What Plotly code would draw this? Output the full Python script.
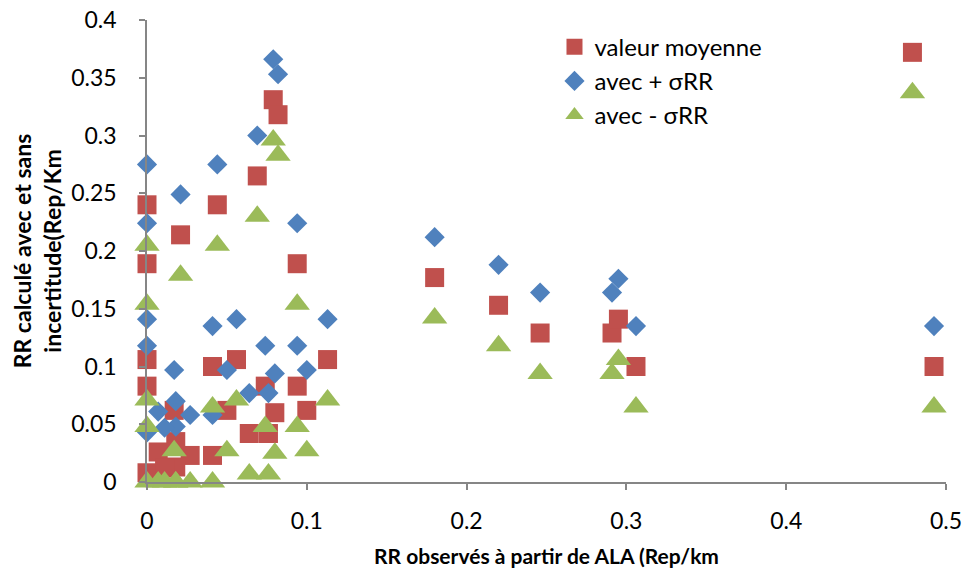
import plotly.graph_objects as go

# Observed RR from ALA (Rep/km)
rr_observe = [
    0.000, 0.044, 0.021, 0.000, 0.094, 0.069, 0.079, 0.082,
    0.000, 0.041, 0.056, 0.113, 0.000, 0.074, 0.094,
    0.017, 0.050, 0.080, 0.100, 0.064, 0.076,
    0.000, 0.007, 0.018, 0.027, 0.018, 0.011, 0.041,
    0.180, 0.220, 0.246, 0.291, 0.295, 0.306, 0.479, 0.4925,
]

# Computed RR, mean value
valeur_moyenne = [
    0.240, 0.240, 0.214, 0.189, 0.189, 0.265, 0.331, 0.318,
    0.106, 0.100, 0.106, 0.106, 0.083, 0.083, 0.083,
    0.062, 0.062, 0.060, 0.062, 0.042, 0.042,
    0.008, 0.026, 0.035, 0.023, 0.013, 0.012, 0.023,
    0.177, 0.153, 0.129, 0.129, 0.141, 0.100, 0.372, 0.100,
]

# Computed RR with + sigma
avec_plus = [
    0.275, 0.275, 0.249, 0.224, 0.224, 0.300, 0.366, 0.353,
    0.141, 0.135, 0.141, 0.141, 0.118, 0.118, 0.118,
    0.097, 0.097, 0.094, 0.097, 0.077, 0.077,
    0.043, 0.061, 0.070, 0.058, 0.048, 0.047, 0.058,
    0.212, 0.188, 0.164, 0.164, 0.176, 0.135, None, 0.135,
]

# Computed RR with - sigma
avec_moins = [
    0.205, 0.205, 0.179, 0.154, 0.154, 0.230, 0.296, 0.283,
    0.071, 0.065, 0.071, 0.071, 0.048, 0.048, 0.048,
    0.027, 0.027, 0.025, 0.027, 0.007, 0.007,
    0.000, 0.000, 0.000, 0.000, 0.000, 0.000, 0.000,
    0.142, 0.118, 0.094, 0.094, 0.106, 0.065, 0.337, 0.065,
]

x_ticks = [0, 0.1, 0.2, 0.3, 0.4, 0.5]
x_tick_text = ["0", "0.1", "0.2", "0.3", "0.4", "0.5"]
y_ticks = [0, 0.05, 0.1, 0.15, 0.2, 0.25, 0.3, 0.35, 0.4]
y_tick_text = ["0", "0.05", "0.1", "0.15", "0.2", "0.25", "0.3", "0.35", "0.4"]

RED = "#C0504D"
BLUE = "#4F81BD"
GREEN = "#9BBB59"
AXIS = "#868686"
FONT = "Lato"

fig = go.Figure()
fig.add_trace(go.Scatter(
    x=rr_observe, y=valeur_moyenne, mode="markers", name="valeur moyenne",
    marker=dict(symbol="square", size=19, color=RED),
    cliponaxis=False,
))
fig.add_trace(go.Scatter(
    x=rr_observe, y=avec_plus, mode="markers", name="avec + σRR",
    marker=dict(symbol="diamond", size=15.5, color=BLUE),
    cliponaxis=False,
))
fig.add_trace(go.Scatter(
    x=rr_observe, y=avec_moins, mode="markers", name="avec - σRR",
    marker=dict(symbol="triangle-up", size=22, color=GREEN),
    cliponaxis=False,
))

fig.update_layout(
    width=967, height=572,
    margin=dict(l=147, r=21, t=20, b=90, autoexpand=False),
    paper_bgcolor="white", plot_bgcolor="white",
    font=dict(family=FONT, color="black", size=23),
    showlegend=True,
    legend=dict(
        x=0.51, y=0.99, xanchor="left", yanchor="top",
        bgcolor="rgba(0,0,0,0)", font=dict(family=FONT, size=24),
        itemwidth=30,
    ),
    xaxis=dict(
        range=[0, 0.5], tickvals=x_ticks, ticktext=x_tick_text,
        showgrid=False, zeroline=False, showline=True, automargin=False,
        linecolor=AXIS, linewidth=1.5,
        ticks="outside", ticklen=6, tickcolor=AXIS, tickwidth=1.5,
        ticklabelstandoff=12,
        tickfont=dict(family=FONT, size=23),
        title=dict(text="<b>RR observés à partir de ALA (Rep/km</b>",
                   font=dict(family=FONT, size=21), standoff=16),
    ),
    yaxis=dict(
        range=[0, 0.4], tickvals=y_ticks, ticktext=y_tick_text,
        showgrid=False, zeroline=False, showline=True, automargin=False,
        linecolor=AXIS, linewidth=1.5,
        ticks="outside", ticklen=6, tickcolor=AXIS, tickwidth=1.5,
        ticklabelstandoff=18,
        tickfont=dict(family=FONT, size=23),
        title=dict(text="<b>RR calculé avec et sans<br>incertitude(Rep/Km</b>",
                   font=dict(family=FONT, size=23), standoff=3),
    ),
)

fig.write_html("out.html")
